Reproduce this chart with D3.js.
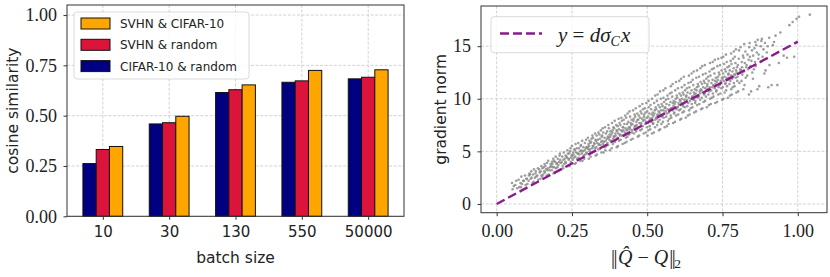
<!DOCTYPE html>
<html>
<head>
<meta charset="utf-8">
<script src="https://cdn.jsdelivr.net/npm/d3@7"></script>
<style>
body { margin: 0; background: #fff; }
svg { display: block; }
</style>
</head>
<body>
<div id="chart"></div>
<script>
const w = 830;
const h = 277;

// left panel data
const batchSizes = ["10", "30", "130", "550", "50000"];
const seriesNames = ["CIFAR-10 & random", "SVHN & random", "SVHN & CIFAR-10"];
const seriesColors = ["#000080", "#dc143c", "#ffa500"];
const cifarRandom = [0.262, 0.459, 0.615, 0.666, 0.683];
const svhnRandom = [0.332, 0.465, 0.629, 0.673, 0.691];
const svhnCifar = [0.347, 0.497, 0.653, 0.725, 0.728];
const simTicks = [0, 0.25, 0.5, 0.75, 1.0];

// right panel data
const normTicksX = [0, 0.25, 0.5, 0.75, 1.0];
const normTicksY = [0, 5, 10, 15];
const fitX = [0, 1];
const fitY = [0, 15.43];
// scatter: [x, y]
const gradPts = [
[0.053,1.4],[0.057,1.7],[0.051,2.0],[0.068,1.5],[0.062,1.8],[0.065,2.2],[0.075,1.6],[0.079,2.0],[0.073,2.3],
[0.081,1.6],[0.084,1.9],[0.088,2.2],[0.082,2.6],[0.096,1.8],[0.090,2.2],[0.099,2.4],[0.094,2.7],
[0.102,1.9],[0.106,2.2],[0.100,2.4],[0.107,2.7],[0.109,2.9],[0.119,2.0],[0.113,2.4],[0.116,2.5],[0.111,2.8],[0.115,3.1],
[0.123,2.1],[0.127,2.5],[0.121,2.8],[0.129,2.9],[0.124,3.3],[0.138,2.3],[0.132,2.6],[0.135,2.7],[0.130,3.1],[0.137,3.4],
[0.145,2.4],[0.149,2.7],[0.143,3.0],[0.146,3.1],[0.141,3.3],[0.148,3.6],[0.151,2.6],[0.154,2.8],[0.158,3.1],[0.152,3.4],[0.156,3.5],[0.159,3.8],
[0.166,2.7],[0.160,3.0],[0.169,3.2],[0.164,3.3],[0.162,3.6],[0.167,3.9],[0.172,2.8],[0.176,3.2],[0.170,3.4],[0.177,3.5],[0.179,3.8],[0.171,4.1],
[0.189,2.9],[0.183,3.2],[0.186,3.5],[0.181,3.6],[0.185,3.8],[0.184,4.0],[0.188,4.3],[0.193,3.0],[0.197,3.4],[0.191,3.5],[0.199,3.8],[0.194,4.0],[0.190,4.1],[0.196,4.5],
[0.208,3.2],[0.202,3.5],[0.205,3.7],[0.200,3.9],[0.207,4.0],[0.203,4.3],[0.209,4.6],[0.215,3.3],[0.219,3.6],[0.213,3.9],[0.216,4.0],[0.211,4.2],[0.218,4.5],[0.210,4.8],
[0.221,3.4],[0.224,3.8],[0.228,4.0],[0.222,4.2],[0.226,4.3],[0.229,4.6],[0.223,4.9],[0.236,3.6],[0.230,3.9],[0.239,4.2],[0.234,4.4],[0.232,4.5],[0.237,4.8],[0.235,5.1],
[0.242,3.6],[0.246,4.0],[0.240,4.3],[0.247,4.4],[0.249,4.6],[0.241,4.8],[0.244,5.0],[0.245,5.3],[0.259,3.8],[0.253,4.2],[0.256,4.4],[0.251,4.6],[0.255,4.7],[0.254,4.9],[0.258,5.2],[0.250,5.5],
[0.263,3.9],[0.267,4.3],[0.261,4.5],[0.269,4.8],[0.264,4.9],[0.260,5.1],[0.266,5.3],[0.262,5.7],[0.278,4.1],[0.272,4.4],[0.275,4.7],[0.270,4.8],[0.277,5.0],[0.273,5.3],[0.279,5.5],[0.271,5.8],
[0.285,4.1],[0.289,4.6],[0.283,4.8],[0.286,5.0],[0.281,5.1],[0.288,5.4],[0.280,5.6],[0.284,6.0],[0.291,4.3],[0.294,4.7],[0.298,4.9],[0.292,5.1],[0.296,5.3],[0.299,5.4],[0.293,5.8],[0.297,6.1],
[0.306,4.3],[0.300,4.8],[0.309,5.0],[0.304,5.2],[0.302,5.4],[0.307,5.5],[0.305,5.7],[0.308,6.0],[0.303,6.3],
[0.312,4.5],[0.316,4.9],[0.310,5.2],[0.317,5.3],[0.319,5.5],[0.311,5.8],[0.314,5.9],[0.315,6.2],[0.318,6.5],
[0.329,4.6],[0.323,5.0],[0.326,5.3],[0.321,5.5],[0.325,5.7],[0.324,5.8],[0.328,6.1],[0.320,6.3],[0.327,6.7],
[0.333,4.7],[0.337,5.2],[0.331,5.4],[0.339,5.6],[0.334,5.8],[0.330,6.0],[0.336,6.1],[0.332,6.5],[0.338,6.8],
[0.348,4.9],[0.342,5.2],[0.345,5.6],[0.340,5.7],[0.347,5.9],[0.343,6.2],[0.349,6.4],[0.341,6.6],[0.346,7.0],
[0.355,4.9],[0.359,5.4],[0.353,5.7],[0.356,5.9],[0.351,6.0],[0.358,6.3],[0.350,6.5],[0.354,6.8],[0.352,7.2],
[0.361,5.1],[0.364,5.5],[0.368,5.8],[0.362,6.0],[0.366,6.2],[0.369,6.4],[0.363,6.7],[0.367,6.9],[0.360,7.3],
[0.376,5.1],[0.370,5.6],[0.379,5.9],[0.374,6.1],[0.372,6.3],[0.377,6.4],[0.375,6.6],[0.378,6.9],[0.373,7.2],[0.371,7.5],
[0.382,5.3],[0.386,5.7],[0.380,6.0],[0.387,6.2],[0.389,6.4],[0.381,6.6],[0.384,6.8],[0.385,7.0],[0.388,7.3],[0.383,7.7],
[0.399,5.4],[0.393,5.9],[0.396,6.1],[0.391,6.4],[0.395,6.5],[0.394,6.7],[0.398,7.0],[0.390,7.2],[0.397,7.5],[0.392,7.9],
[0.403,5.5],[0.407,6.0],[0.401,6.3],[0.409,6.5],[0.404,6.7],[0.400,6.9],[0.406,7.1],[0.402,7.4],[0.408,7.7],[0.405,8.1],
[0.418,5.7],[0.412,6.1],[0.415,6.5],[0.410,6.6],[0.417,6.9],[0.413,7.0],[0.419,7.3],[0.411,7.5],[0.416,7.9],[0.414,8.2],
[0.425,5.8],[0.429,6.3],[0.423,6.5],[0.426,6.8],[0.421,7.0],[0.428,7.2],[0.420,7.3],[0.424,7.6],[0.422,8.0],[0.427,8.4],
[0.431,5.9],[0.434,6.4],[0.438,6.7],[0.432,7.0],[0.436,7.1],[0.439,7.3],[0.433,7.6],[0.437,7.8],[0.430,8.2],[0.435,8.6],
[0.446,6.1],[0.440,6.6],[0.449,6.8],[0.444,7.1],[0.442,7.3],[0.447,7.5],[0.445,7.7],[0.448,8.0],[0.443,8.3],[0.441,8.8],
[0.452,6.2],[0.456,6.7],[0.450,7.0],[0.457,7.2],[0.459,7.4],[0.451,7.6],[0.454,7.9],[0.455,8.1],[0.458,8.5],[0.453,8.9],
[0.469,6.4],[0.463,6.9],[0.466,7.1],[0.461,7.4],[0.465,7.5],[0.464,7.8],[0.468,8.0],[0.460,8.3],[0.467,8.6],[0.462,9.1],
[0.473,6.5],[0.477,7.0],[0.471,7.3],[0.479,7.5],[0.474,7.7],[0.470,8.0],[0.476,8.2],[0.472,8.4],[0.478,8.8],[0.475,9.3],
[0.488,6.7],[0.482,7.1],[0.485,7.4],[0.480,7.7],[0.487,7.9],[0.483,8.1],[0.489,8.3],[0.481,8.6],[0.486,9.0],[0.484,9.5],
[0.495,6.8],[0.499,7.3],[0.493,7.6],[0.496,7.8],[0.491,8.0],[0.498,8.2],[0.490,8.5],[0.494,8.7],[0.492,9.1],[0.497,9.6],
[0.501,6.5],[0.504,7.0],[0.508,7.4],[0.502,7.7],[0.506,7.9],[0.509,8.1],[0.503,8.3],[0.507,8.6],[0.500,8.8],[0.505,9.2],[0.5045,9.8],
[0.516,6.7],[0.510,7.1],[0.519,7.6],[0.514,7.8],[0.512,8.1],[0.517,8.2],[0.515,8.5],[0.518,8.7],[0.513,9.0],[0.511,9.4],[0.5155,10.0],
[0.522,6.8],[0.526,7.3],[0.520,7.7],[0.527,8.0],[0.529,8.2],[0.521,8.4],[0.524,8.6],[0.525,8.9],[0.528,9.2],[0.523,9.6],[0.5265,10.3],
[0.539,7.0],[0.533,7.5],[0.536,7.8],[0.531,8.1],[0.535,8.4],[0.534,8.5],[0.538,8.8],[0.530,9.0],[0.537,9.4],[0.532,9.8],[0.5345,10.4],
[0.543,7.1],[0.547,7.6],[0.541,8.0],[0.549,8.3],[0.544,8.5],[0.540,8.7],[0.546,8.9],[0.542,9.2],[0.548,9.5],[0.545,10.0],[0.5425,10.7],
[0.558,7.3],[0.552,7.8],[0.555,8.2],[0.550,8.4],[0.557,8.6],[0.553,8.9],[0.559,9.1],[0.551,9.3],[0.556,9.7],[0.554,10.1],[0.5535,10.8],
[0.565,7.4],[0.569,7.9],[0.563,8.3],[0.566,8.6],[0.561,8.8],[0.568,9.0],[0.560,9.2],[0.564,9.5],[0.562,9.9],[0.567,10.3],[0.5605,11.0],
[0.571,7.6],[0.574,8.1],[0.578,8.4],[0.572,8.7],[0.576,9.0],[0.579,9.1],[0.573,9.4],[0.577,9.7],[0.570,10.0],[0.575,10.5],[0.5785,11.2],
[0.586,7.7],[0.580,8.2],[0.589,8.6],[0.584,8.9],[0.582,9.1],[0.587,9.3],[0.585,9.6],[0.588,9.8],[0.583,10.2],[0.581,10.6],[0.5845,11.4],
[0.592,7.8],[0.596,8.4],[0.590,8.7],[0.597,9.0],[0.599,9.2],[0.591,9.5],[0.594,9.7],[0.595,10.0],[0.598,10.3],[0.593,10.8],[0.5955,11.6],
[0.609,8.0],[0.603,8.5],[0.606,8.9],[0.601,9.2],[0.605,9.4],[0.604,9.6],[0.608,9.9],[0.600,10.1],[0.607,10.5],[0.602,11.0],[0.6065,11.7],
[0.613,8.1],[0.617,8.7],[0.611,9.0],[0.619,9.3],[0.614,9.6],[0.610,9.8],[0.616,10.0],[0.612,10.3],[0.618,10.6],[0.615,11.1],[0.6125,11.9],
[0.628,8.2],[0.622,8.8],[0.625,9.2],[0.620,9.5],[0.627,9.7],[0.623,9.9],[0.629,10.2],[0.621,10.4],[0.626,10.8],[0.624,11.3],[0.6215,12.1],
[0.635,8.4],[0.639,8.9],[0.633,9.3],[0.636,9.6],[0.631,9.9],[0.638,10.1],[0.630,10.3],[0.634,10.6],[0.632,11.0],[0.637,11.5],[0.6385,12.2],
[0.641,8.5],[0.644,9.1],[0.648,9.5],[0.642,9.8],[0.646,10.0],[0.649,10.2],[0.643,10.5],[0.647,10.8],[0.640,11.1],[0.645,11.6],[0.6475,12.4],
[0.656,8.7],[0.650,9.2],[0.659,9.6],[0.654,9.9],[0.652,10.2],[0.657,10.4],[0.655,10.6],[0.658,10.9],[0.653,11.3],[0.651,11.8],[0.6545,12.6],
[0.662,8.8],[0.666,9.4],[0.660,9.8],[0.667,10.1],[0.669,10.3],[0.661,10.5],[0.664,10.8],[0.665,11.1],[0.668,11.4],[0.663,12.0],[0.6655,12.7],
[0.679,9.0],[0.673,9.5],[0.676,9.9],[0.671,10.2],[0.675,10.5],[0.674,10.7],[0.678,10.9],[0.670,11.2],[0.677,11.6],[0.672,12.1],[0.6765,12.9],
[0.683,9.1],[0.687,9.7],[0.681,10.1],[0.689,10.4],[0.684,10.6],[0.680,10.8],[0.686,11.1],[0.682,11.4],[0.688,11.7],[0.685,12.3],[0.6825,13.1],
[0.698,9.2],[0.692,9.8],[0.695,10.2],[0.690,10.5],[0.697,10.8],[0.693,11.0],[0.699,11.2],[0.691,11.5],[0.696,11.9],[0.694,12.4],[0.6915,13.2],
[0.705,9.4],[0.709,10.0],[0.703,10.4],[0.706,10.7],[0.701,10.9],[0.708,11.1],[0.700,11.4],[0.704,11.7],[0.702,12.1],[0.707,12.6],[0.7085,13.4],
[0.711,9.5],[0.714,10.1],[0.718,10.5],[0.712,10.8],[0.716,11.1],[0.719,11.3],[0.713,11.5],[0.717,11.8],[0.710,12.2],[0.715,12.8],[0.7175,13.5],
[0.726,9.6],[0.720,10.2],[0.729,10.7],[0.724,11.0],[0.722,11.2],[0.727,11.4],[0.725,11.7],[0.728,12.0],[0.723,12.4],[0.721,12.9],[0.7245,13.7],
[0.732,9.7],[0.736,10.4],[0.730,10.8],[0.737,11.1],[0.739,11.4],[0.731,11.6],[0.734,11.8],[0.735,12.1],[0.738,12.5],[0.733,13.1],[0.7355,13.8],
[0.749,9.9],[0.743,10.5],[0.746,11.0],[0.741,11.3],[0.745,11.5],[0.744,11.7],[0.748,12.0],[0.740,12.3],[0.747,12.7],[0.742,13.2],[0.7465,13.9],
[0.753,10.0],[0.757,10.6],[0.751,11.1],[0.759,11.4],[0.754,11.7],[0.750,11.9],[0.756,12.1],[0.752,12.4],[0.758,12.8],[0.755,13.3],[0.7525,14.0],
[0.768,10.1],[0.762,10.8],[0.765,11.2],[0.760,11.5],[0.767,11.8],[0.763,12.0],[0.769,12.3],[0.761,12.6],[0.766,13.0],[0.764,13.5],[0.7615,14.2],
[0.775,10.3],[0.779,10.9],[0.773,11.4],[0.776,11.7],[0.771,12.0],[0.778,12.2],[0.770,12.4],[0.774,12.7],[0.772,13.1],[0.777,13.6],[0.7785,14.3],
[0.781,10.4],[0.784,11.1],[0.788,11.5],[0.782,11.9],[0.786,12.1],[0.789,12.3],[0.783,12.6],[0.787,12.9],[0.780,13.3],[0.785,13.8],[0.7875,14.5],
[0.796,10.6],[0.790,11.2],[0.799,11.7],[0.794,12.0],[0.792,12.3],[0.797,12.5],[0.795,12.7],[0.798,13.0],[0.793,13.4],[0.791,14.0],[0.7945,14.7],
[0.802,10.7],[0.806,11.5],[0.800,12.1],[0.807,12.5],[0.809,12.8],[0.801,13.2],[0.804,13.8],[0.805,14.6],
[0.819,10.9],[0.813,11.7],[0.816,12.3],[0.811,12.7],[0.815,13.0],[0.814,13.5],[0.818,14.1],[0.810,14.9],
[0.823,11.3],[0.827,12.0],[0.821,12.6],[0.829,13.0],[0.824,13.4],[0.820,13.9],[0.826,14.5],[0.822,15.2],
[0.838,10.4],[0.832,12.2],[0.835,12.8],[0.830,13.2],[0.837,13.7],[0.833,14.2],[0.839,14.9],
[0.845,10.7],[0.849,12.5],[0.843,13.1],[0.846,13.6],[0.841,14.0],[0.848,14.6],[0.840,15.3],
[0.851,11.9],[0.854,12.8],[0.858,13.5],[0.852,14.1],[0.856,14.8],[0.859,15.4],
[0.866,10.9],[0.860,13.1],[0.869,13.8],[0.864,14.4],[0.862,15.1],[0.867,15.6],
[0.872,11.2],[0.876,13.5],[0.870,14.2],[0.877,15.0],[0.879,15.5],
[0.889,12.4],[0.883,14.0],[0.886,14.7],[0.881,15.7],[0.893,12.7],[0.897,14.4],[0.891,15.3],
[0.902,11.1],[0.906,13.2],[0.900,15.0],[0.905,15.8],[0.913,11.3],[0.917,15.1],[0.921,15.4],[0.926,16.0],
[0.932,11.3],[0.937,13.4],[0.942,16.3],[0.953,14.1],[0.964,13.9],[0.972,17.0],[0.983,17.3],[0.988,14.0],
[0.996,17.6],[1.004,17.8],[1.04,18.0]
];

const sansFont = "DejaVu Sans";
const serifFont = "Liberation Serif";
const gridColor = "#c8c8c8";
const frameColor = "#333333";
const fitColor = "#8b1a8b";

let svg = d3.select("div#chart").append("svg")
    .attr("width", w).attr("height", h)
    .style("background-color", "#ffffff");

// ---------- left: cosine similarity bars ----------
const barBox = {left: 67, right: 404, top: 5, bottom: 216.3};
const xBar = d3.scaleLinear().domain([-0.54, 4.54]).range([barBox.left, barBox.right]);
const yBar = d3.scaleLinear().domain([0, 1.05]).range([barBox.bottom, barBox.top]);

let barGrid = svg.append("g");
barGrid.selectAll("line.h").data(simTicks).join("line")
    .attr("x1", barBox.left).attr("x2", barBox.right)
    .attr("y1", d => yBar(d)).attr("y2", d => yBar(d))
    .attr("stroke", gridColor).attr("stroke-width", 0.8).attr("stroke-dasharray", "3,1.6");
barGrid.selectAll("line.v").data(batchSizes).join("line")
    .attr("x1", (d, i) => xBar(i)).attr("x2", (d, i) => xBar(i))
    .attr("y1", barBox.top).attr("y2", barBox.bottom)
    .attr("stroke", gridColor).attr("stroke-width", 0.8).attr("stroke-dasharray", "3,1.6");

const allSeries = [cifarRandom, svhnRandom, svhnCifar];
const offsets = [-0.2, 0, 0.2];
const barW = 0.2;
allSeries.forEach((vals, s) => {
    svg.append("g").selectAll("rect").data(vals).join("rect")
        .attr("x", (d, i) => xBar(i + offsets[s] - barW / 2))
        .attr("width", xBar(barW) - xBar(0))
        .attr("y", d => yBar(d))
        .attr("height", d => yBar(0) - yBar(d))
        .attr("fill", seriesColors[s])
        .attr("stroke", "#111").attr("stroke-width", 1);
});

svg.append("rect")
    .attr("x", barBox.left).attr("y", barBox.top)
    .attr("width", barBox.right - barBox.left).attr("height", barBox.bottom - barBox.top)
    .attr("fill", "none").attr("stroke", frameColor).attr("stroke-width", 1);

let gxBar = svg.append("g").attr("transform", `translate(0,${barBox.bottom})`)
    .call(d3.axisBottom(xBar).tickValues(d3.range(batchSizes.length))
        .tickFormat(i => batchSizes[i]).tickSize(3.5).tickPadding(7));
gxBar.select(".domain").remove();
gxBar.selectAll("text").attr("font-family", sansFont).attr("font-size", 15).attr("fill", "#222");

let gyBar = svg.append("g").attr("transform", `translate(${barBox.left},0)`)
    .call(d3.axisLeft(yBar).tickValues(simTicks).tickFormat(d3.format(".2f")).tickSize(3.5).tickPadding(6.5));
gyBar.select(".domain").remove();
gyBar.selectAll("text").attr("font-family", serifFont).attr("font-size", 18).attr("fill", "#222");

svg.append("text").text("batch size")
    .attr("x", (barBox.left + barBox.right) / 2).attr("y", 262.5)
    .attr("text-anchor", "middle").attr("font-family", sansFont).attr("font-size", 15.5).attr("fill", "#222");
svg.append("text").text("cosine similarity")
    .attr("transform", `translate(18,${(barBox.top + barBox.bottom) / 2}) rotate(-90)`)
    .attr("text-anchor", "middle").attr("font-family", sansFont).attr("font-size", 15.5).attr("fill", "#222");

// legend (reverse order, as in the figure)
let barLegend = svg.append("g");
barLegend.append("rect")
    .attr("x", 74).attr("y", 12).attr("width", 175).attr("height", 67).attr("rx", 3)
    .attr("fill", "#ffffff").attr("fill-opacity", 0.8).attr("stroke", "#d0d0d0").attr("stroke-width", 0.8);
[2, 1, 0].forEach((s, row) => {
    const cy = 23.5 + row * 21.3;
    barLegend.append("rect")
        .attr("x", 81).attr("y", cy - 5.5).attr("width", 29).attr("height", 11)
        .attr("fill", seriesColors[s]).attr("stroke", "#111").attr("stroke-width", 1);
    barLegend.append("text").text(seriesNames[s])
        .attr("x", 120).attr("y", cy + 4.6)
        .attr("font-family", sansFont).attr("font-size", 12).attr("fill", "#222");
});

// ---------- right: gradient norm scatter ----------
const scBox = {left: 481, right: 827, top: 6, bottom: 212.7};
const xSc = d3.scaleLinear().domain([-0.052, 1.097]).range([scBox.left, scBox.right]);
const ySc = d3.scaleLinear().domain([-0.83, 18.82]).range([scBox.bottom, scBox.top]);

let scGrid = svg.append("g");
scGrid.selectAll("line.h").data(normTicksY).join("line")
    .attr("x1", scBox.left).attr("x2", scBox.right)
    .attr("y1", d => ySc(d)).attr("y2", d => ySc(d))
    .attr("stroke", gridColor).attr("stroke-width", 0.8).attr("stroke-dasharray", "3,1.6");
scGrid.selectAll("line.v").data(normTicksX).join("line")
    .attr("x1", d => xSc(d)).attr("x2", d => xSc(d))
    .attr("y1", scBox.top).attr("y2", scBox.bottom)
    .attr("stroke", gridColor).attr("stroke-width", 0.8).attr("stroke-dasharray", "3,1.6");

svg.append("g").selectAll("circle").data(gradPts).join("circle")
    .attr("cx", d => xSc(d[0])).attr("cy", d => ySc(d[1]))
    .attr("r", 1.3).attr("fill", "#868686").attr("fill-opacity", 0.8);

const fitLine = d3.line().x(d => xSc(d[0])).y(d => ySc(d[1]));
svg.append("path").datum(fitX.map((x, i) => [x, fitY[i]]))
    .attr("d", fitLine).attr("fill", "none")
    .attr("stroke", fitColor).attr("stroke-width", 2.4).attr("stroke-dasharray", "9,4");

svg.append("rect")
    .attr("x", scBox.left).attr("y", scBox.top)
    .attr("width", scBox.right - scBox.left).attr("height", scBox.bottom - scBox.top)
    .attr("fill", "none").attr("stroke", frameColor).attr("stroke-width", 1);

let gxSc = svg.append("g").attr("transform", `translate(0,${scBox.bottom})`)
    .call(d3.axisBottom(xSc).tickValues(normTicksX).tickFormat(d3.format(".2f")).tickSize(3.5).tickPadding(8));
gxSc.select(".domain").remove();
gxSc.selectAll("text").attr("font-family", serifFont).attr("font-size", 18).attr("fill", "#222");

let gySc = svg.append("g").attr("transform", `translate(${scBox.left},0)`)
    .call(d3.axisLeft(ySc).tickValues(normTicksY).tickFormat(d3.format("d")).tickSize(3.5).tickPadding(6.5));
gySc.select(".domain").remove();
gySc.selectAll("text").attr("font-family", serifFont).attr("font-size", 18).attr("fill", "#222");
svg.selectAll(".tick line").attr("stroke", frameColor);

svg.append("text").text("gradient norm")
    .attr("transform", `translate(446,${(scBox.top + scBox.bottom) / 2}) rotate(-90)`)
    .attr("text-anchor", "middle").attr("font-family", sansFont).attr("font-size", 15.5).attr("fill", "#222");

let xLab = svg.append("text")
    .attr("x", (scBox.left + scBox.right) / 2 - 8).attr("y", 264)
    .attr("text-anchor", "middle").attr("font-family", serifFont).attr("font-size", 20).attr("fill", "#222");
xLab.append("tspan").attr("letter-spacing", -1.5).text("||");
xLab.append("tspan").attr("font-style", "italic").attr("dx", 2).text("Q\u0302");
xLab.append("tspan").text(" \u2212 ");
xLab.append("tspan").attr("font-style", "italic").text("Q");
xLab.append("tspan").attr("letter-spacing", -1.5).attr("dx", 1).text("||");
xLab.append("tspan").attr("font-size", 13.5).attr("dy", 4).text("2");

// legend
let scLegend = svg.append("g");
scLegend.append("rect")
    .attr("x", 491).attr("y", 16.7).attr("width", 158).attr("height", 36).attr("rx", 3)
    .attr("fill", "#ffffff").attr("fill-opacity", 0.8).attr("stroke", "#d0d0d0").attr("stroke-width", 0.8);
scLegend.append("line")
    .attr("x1", 500).attr("x2", 542).attr("y1", 33.5).attr("y2", 33.5)
    .attr("stroke", fitColor).attr("stroke-width", 2.4).attr("stroke-dasharray", "9,4");
let eq = scLegend.append("text")
    .attr("x", 558).attr("y", 41.5)
    .attr("font-family", serifFont).attr("font-size", 21).attr("fill", "#222");
eq.append("tspan").attr("font-style", "italic").text("y");
eq.append("tspan").text(" = ");
eq.append("tspan").attr("font-style", "italic").text("d\u03C3");
eq.append("tspan").attr("font-style", "italic").attr("font-size", 14).attr("dy", 4).text("C");
eq.append("tspan").attr("font-style", "italic").attr("dx", 1).attr("dy", -4).text("x");
</script>
</body>
</html>
